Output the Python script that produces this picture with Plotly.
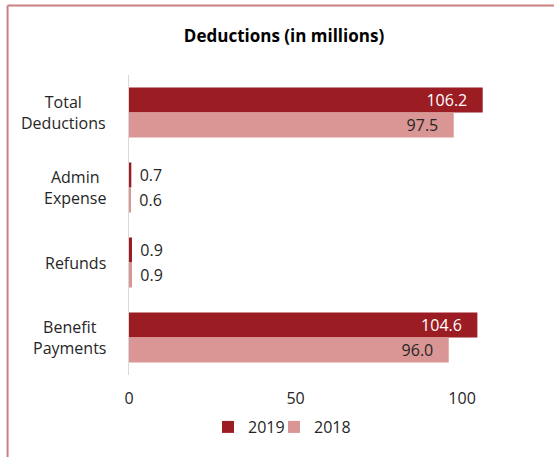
import plotly.graph_objects as go

# Deduction categories, top to bottom
categories = ["Total Deductions", "Admin Expense", "Refunds", "Benefit Payments"]
category_labels = ["Total<br>Deductions", "Admin<br>Expense", "Refunds", "Benefit<br>Payments"]
values_2019 = [106.2, 0.7, 0.9, 104.6]
values_2018 = [97.5, 0.6, 0.9, 96.0]
x_ticks = [0, 50, 100]

FONT = "Open Sans"
DARK = "#9B1C22"
LIGHT = "#DA9694"
TEXT = "#262626"
SIZE = 16


def label_positions(vals):
    return ["inside" if v > 20 else "outside" for v in vals]


def label_templates(vals):
    # a little breathing room between the value and the bar end
    return ["%{x:.1f}\u00a0\u00a0\u00a0" if v > 20 else "\u2009\u2009%{x:.1f}" for v in vals]


fig = go.Figure()
for name, vals, color, inside_col, leg in [("2019", values_2019, DARK, "white", "legend"),
                                           ("2018", values_2018, LIGHT, TEXT, "legend2")]:
    fig.add_trace(go.Bar(
        name=name, y=categories, x=vals, orientation="h", legend=leg,
        marker=dict(color=color, line=dict(width=0)),
        texttemplate=label_templates(vals), textposition=label_positions(vals),
        insidetextanchor="end", constraintext="none",
        insidetextfont=dict(color=inside_col, size=SIZE, family=FONT),
        outsidetextfont=dict(color=TEXT, size=SIZE, family=FONT),
        cliponaxis=False,
    ))

# Category labels: multi-line, lines centred, block right-aligned to the axis
for cat, lab in zip(categories, category_labels):
    fig.add_annotation(
        x=-0.053, xref="paper", xanchor="right", y=cat, yref="y",
        text=lab, showarrow=False, align="center",
        font=dict(family=FONT, size=SIZE, color=TEXT),
    )

# Frame along the left and top edges
border = dict(color="#C98080", width=2)
fig.add_shape(type="line", xref="paper", yref="paper",
              x0=-0.309, x1=-0.309, y0=1.232, y1=-0.35, line=border)
fig.add_shape(type="line", xref="paper", yref="paper",
              x0=-0.309, x1=1.2, y0=1.232, y1=1.232, line=border)

legend_style = dict(orientation="h", xref="container", xanchor="left",
                    y=1 - 427 / 457, yref="container", yanchor="middle",
                    font=dict(family=FONT, size=SIZE, color=TEXT),
                    itemwidth=30, bgcolor="rgba(0,0,0,0)")

fig.update_layout(
    width=554, height=457,
    margin=dict(l=129, r=32, t=75, b=82, autoexpand=False),
    paper_bgcolor="white", plot_bgcolor="white",
    font=dict(family=FONT, size=SIZE, color=TEXT),
    barmode="group", bargap=0.333, bargroupgap=0,
    title=dict(text="<b>Deductions (in millions)</b>", x=284 / 554, xref="container",
               y=1 - 36 / 457, yref="container", xanchor="center", yanchor="middle",
               font=dict(family=FONT, size=17, color="black")),
    legend=dict(x=208 / 554, **legend_style),
    legend2=dict(x=274 / 554, **legend_style),
    showlegend=True,
)
fig.update_xaxes(range=[0, 118], tickvals=x_ticks, showgrid=False, zeroline=False,
                 showline=False, ticks="", ticklabelstandoff=12,
                 tickfont=dict(family=FONT, size=SIZE, color=TEXT))
fig.update_yaxes(categoryorder="array", categoryarray=categories, autorange="reversed",
                 showticklabels=False, showgrid=False, zeroline=False,
                 showline=True, linecolor="#D9D9D9", linewidth=1, ticks="")

fig.write_html("out.html")
